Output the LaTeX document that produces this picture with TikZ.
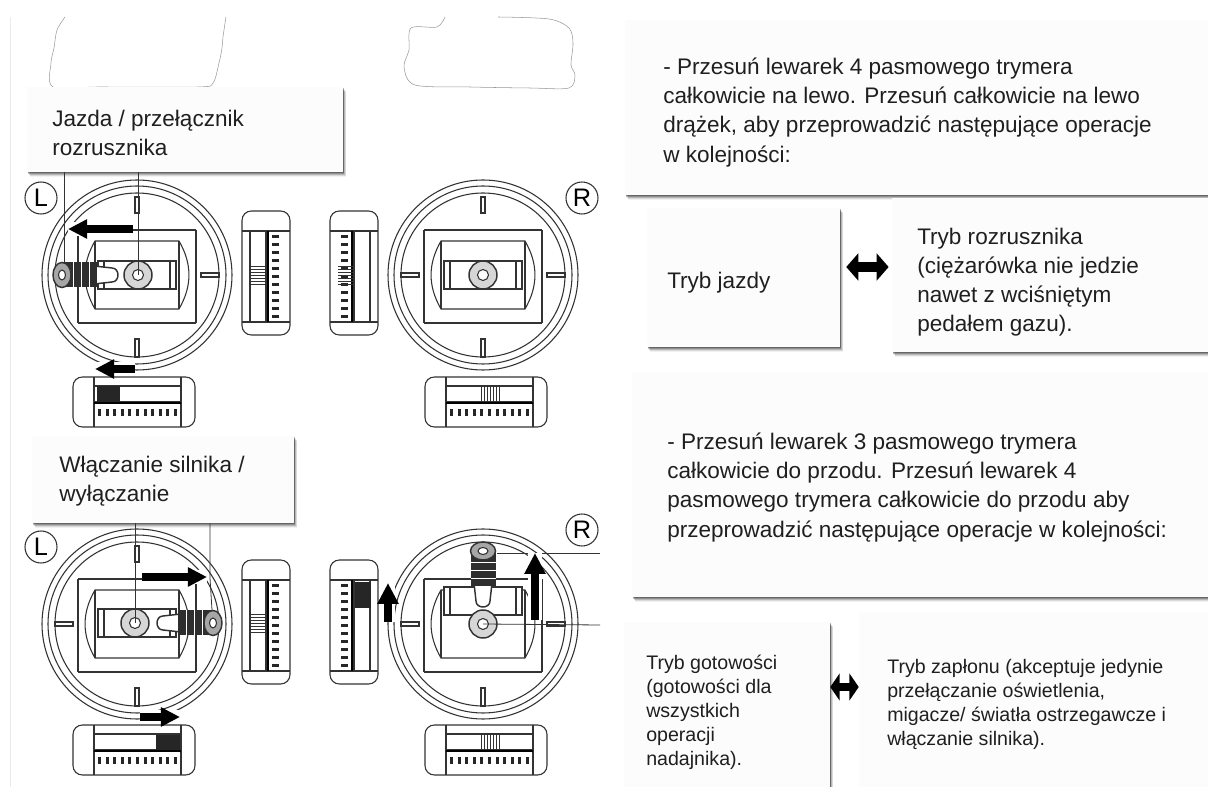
\documentclass[tikz,border=0pt]{standalone}
\usepackage{fontspec}
\setmainfont{Liberation Sans}
\usetikzlibrary{arrows.meta,fit}

\tikzset{
  ink/.style={draw=black!80,line width=.8pt},
  box/.style={inner sep=0pt,fill=black!1,draw=none,
    preaction={fill=black,fill opacity=.05,transform canvas={shift={(2.4pt,-3.4pt)}}},
    preaction={fill=black,fill opacity=.10,transform canvas={shift={(1.9pt,-2.8pt)}}},
    preaction={fill=black,fill opacity=.16,transform canvas={shift={(1.4pt,-2.2pt)}}},
    preaction={fill=black,fill opacity=.22,transform canvas={shift={(.9pt,-1.6pt)}}},
    preaction={fill=black,fill opacity=.28,transform canvas={shift={(.4pt,-1pt)}}}},
  txt/.style={anchor=north west,align=left,inner sep=0pt,text=black!88,font=\fontsize{16.9}{21.8}\selectfont},
  txtS/.style={anchor=north west,align=left,inner sep=0pt,text=black!88,font=\fontsize{14.7}{17.9}\selectfont},
  side/.style={draw=black!80,line width=.8pt,circle,minimum size=24pt,inner sep=0pt,font=\fontsize{19}{19}\selectfont},
  big/.style={-{Triangle[length=#1*2.4,width=#1*2.3]},line width=#1,draw=black,
    preaction={draw=white,line width=#1*1.7,-}},
  dbl/.style={{Triangle[length=9pt,width=20pt]}-{Triangle[length=9pt,width=20pt]},line width=7pt,draw=black},
  lead/.style={draw=black!80,line width=.6pt},
  blob/.style={draw=black!40,line width=.4pt},
  % one dial with its three rings, no slider
  dial/.pic={
    \draw[ink] (0,0) circle (95) (0,0) circle (89);
    \draw[ink] (0,0) circle (82);
    \draw[ink,line width=1pt] (-59,-45) -- (59,-45) (59,-45) -- (59,48) (-59,48) -- (59,48) (-59,-45) -- (-59,48);
    \draw[ink] (-42,-34) -- (42,-34) to[bend left=30] (42,34) -- (-42,34) to[bend left=30] cycle;
    \draw[ink] (-42,-34) -- (-42,34) (42,-34) -- (42,34);
    \draw[ink,fill=white] (-2,-78) rectangle (2,-62);
    \draw[ink,fill=white] (-2,64) rectangle (2,82);
    \draw[ink,fill=white] (-82,-2) rectangle (-64,2);
    \draw[ink,fill=white] (64,-2) rectangle (82,2);
  },
  slider/.pic={
    \draw[ink,fill=white,line width=1.1pt] (-39,-14) rectangle (39,14);
    \draw[ink] (-33,-14) -- (-33,14) (33,-14) -- (33,14);
  },
  knob/.pic={
    \draw[ink,fill=black!16,line width=1.1pt] (0,0) circle (14);
    \draw[ink,fill=white] (0,0) circle (5.5);
  },
  % lever pointing to the left of its pivot
  lever/.pic={
    \draw[ink,fill=white,line width=1.1pt] (0,-7) -- (-18,-9) -- (-18,9) -- (0,7) .. controls (8,7) and (8,-7) .. (0,-7);
    \fill[black!82] (-50,-12.5) rectangle (-15,12.5);
    \draw[white,line width=.4pt] (-39,-12.5) -- (-39,12.5) (-31,-12.5) -- (-31,12.5) (-23,-12.5) -- (-23,12.5);
    \draw[ink,fill=black!35,line width=1.1pt] (-50,0) ellipse (9 and 12.5);
    \draw[ink,fill=white] (-50,0) ellipse (3.5 and 5);
  },
  vtrim/.pic={
    \draw[ink,rounded corners=7pt] (-24,-62) rectangle (24,62);
    \draw[ink] (-24,-42) -- (24,-42) (-24,49) -- (24,49);
    \draw[ink] (-16,-42) rectangle (0,49);
    \draw[black,line width=1.5pt] (2,-42) -- (2,49);
    \foreach \k in {-5,...,5} \fill[black!85] (6,{2+\k*8}) rectangle (13,{5+\k*8});
  },
  htrim/.pic={
    \draw[ink,rounded corners=7pt] (-61,-25) rectangle (61,25);
    \draw[ink] (-40,-25) -- (-40,25) (47,-25) -- (47,25);
    \draw[ink] (-40,-16) rectangle (47,0);
    \draw[black,line width=1.5pt] (-40,1) -- (47,1);
    \foreach \k in {-5,...,5} \fill[black!85] ({2+\k*7.6},7) rectangle ({5+\k*7.6},14);
  }
}

\begin{document}
\begin{tikzpicture}[x=.75pt,y=-.75pt]
\useasboundingbox (0,0) rectangle (1208,787);
\clip (0,0) rectangle (1208,787);
\fill[white] (0,0) rectangle (1208,787);
\draw[black!8,line width=.5pt] (10,17) -- (10,787);

% blanked patches at the top
\draw[blob] plot[smooth,tension=.5] coordinates {(65,17) (57,30) (54,48) (51,63) (53,87) (99,87) (198,87) (213,83) (219,63) (222,48) (223,37) (226,17)};
\draw[blob] plot[smooth,tension=.5] coordinates {(445,17) (437,27) (411,28) (409,50) (404,67) (415,85) (470,87) (530,88) (569,88) (575,75) (571,65) (573,43) (569,28) (549,19) (498,17)};

% dials
\pic at (137,275) {dial};
\pic at (483,275) {dial};
\pic at (137,624) {dial};
\pic at (483,624) {dial};

\pic at (137,275) {slider};
\pic at (483,275) {slider};
\pic at (137,623) {slider};
\pic at (483,601) {slider};

\coordinate (knobLT) at (138,275);
\coordinate (knobLB) at (135,623);
\coordinate (knobRT) at (483,275);
\coordinate (knobRB) at (483,624);
\pic at (knobLT) {knob};
\pic at (knobRT) {knob};
\pic at (knobLB) {knob};
\pic at (knobRB) {knob};

\pic at (112,275) {lever};
\pic[rotate=180] at (163,623) {lever};
\pic[rotate=-90] at (483,601) {lever};

% trims
\pic at (266,273) {vtrim};
\pic[xscale=-1] at (354,273) {vtrim};
\pic at (266,622) {vtrim};
\pic[xscale=-1] at (354,622) {vtrim};
\pic at (134,402) {htrim};
\pic at (486,402) {htrim};
\pic at (134,750) {htrim};
\pic at (486,750) {htrim};

% trim marks
\fill[black!85] (97,386) rectangle (120,402);
\fill[black!85] (156,735) rectangle (180,750);
\fill[black!85] (355,582) rectangle (371,608);
\foreach \x in {-3,...,3} {
  \draw[ink,line width=.4pt] (250,{275+\x*3}) -- (266,{275+\x*3});
  \draw[ink,line width=.4pt] (338,{275+\x*3}) -- (354,{275+\x*3});
  \draw[ink,line width=.4pt] (250,{623+\x*3}) -- (266,{623+\x*3});
  \draw[ink,line width=.4pt] ({490+\x*3},386) -- ({490+\x*3},402);
  \draw[ink,line width=.4pt] ({490+\x*3},735) -- ({490+\x*3},750);
}

% side letters
\node (sideLT)[side] at (41,198) {L};
\node (sideRT)[side] at (582,198) {R};
\node (sideLB)[side] at (41,547) {L};
\node (sideRB)[side] at (582,530) {R};

% boxes
\node (boxOpis1)[box,fit={(625,20) (1208,195)}] {};
\node (boxJazda)[box,fit={(647,208) (840,347)}] {};
\node (boxRozr)[box,fit={(892,198) (1208,352)}] {};
\node (boxOpis2)[box,fit={(632,372) (1208,597)}] {};
\node (boxGot)[box,fit={(624,622) (830,787)}] {};
\node (boxZapl)[box,fit={(859,612) (1208,787)}] {};
\node (boxStart)[box,fit={(27,87) (343,172)}] {};
\node (boxSilnik)[box,fit={(32,436) (294,523)}] {};

% leaders
\coordinate (stickLT) at (64,262);
\coordinate (stickLB) at (210,578);
\coordinate (endRT) at (600,553);
\coordinate (endRB) at (600,625);
\draw[lead] (boxStart.south -| stickLT) -- (stickLT);
\draw[lead] (boxStart.south -| knobLT) -- (knobLT);
\draw[lead] (boxSilnik.south -| knobLB) -- (knobLB);
\draw[lead] (boxSilnik.south -| stickLB) -- (stickLB) -- (212,610);
\draw[lead] (endRT) -- (497,553);
\draw[lead] (endRB) -- (knobRB);

% arrows
\coordinate (a1) at (133,229); \coordinate (a2) at (68,229);
\coordinate (b1) at (135,369); \coordinate (b2) at (95,369);
\coordinate (c1) at (142,577); \coordinate (c2) at (207,577);
\coordinate (d1) at (140,717); \coordinate (d2) at (180,717);
\coordinate (e1) at (535,620); \coordinate (e2) at (535,553);
\coordinate (f1) at (388,622); \coordinate (f2) at (388,583);
\draw[big=6pt] (a1) -- (a2);
\draw[big=6pt] (b1) -- (b2);
\draw[big=6pt] (c1) -- (c2);
\draw[big=6pt] (d1) -- (d2);
\draw[big=6.5pt] (e1) -- (e2);
\draw[big=6.5pt] (f1) -- (f2);
\draw[dbl,shorten <=4.5pt,shorten >=2.3pt] (boxJazda.east |- 0,267) -- (boxRozr.west |- 0,267);
\draw[dbl,{Triangle[length=7pt,width=20pt]}-{Triangle[length=7pt,width=20pt]},line width=6pt] (boxGot.east |- 0,687) -- (boxZapl.west |- 0,687);

% texts
\node (txtOpis1)[txt] at (663,58) {- Przesuń lewarek 4 pasmowego trymera\\całkowicie na lewo. Przesuń całkowicie na lewo\\drążek, aby przeprowadzić następujące operacje\\w kolejności:};
\node (txtJazda)[txt] at (667,272) {Tryb jazdy};
\node (txtRozr)[txt] at (917,228) {Tryb rozrusznika\\(ciężarówka nie jedzie\\nawet z wciśniętym\\pedałem gazu).};
\node (txtOpis2)[txt] at (667,433) {- Przesuń lewarek 3 pasmowego trymera\\całkowicie do przodu. Przesuń lewarek 4\\pasmowego trymera całkowicie do przodu aby\\przeprowadzić następujące operacje w kolejności:};
\node (txtGot)[txtS] at (646,655) {Tryb gotowości\\(gotowości dla\\wszystkich\\operacji\\nadajnika).};
\node (txtZapl)[txtS] at (887,659) {Tryb zapłonu (akceptuje jedynie\\przełączanie oświetlenia,\\migacze/ światła ostrzegawcze i\\włączanie silnika).};
\node (txtStart)[txt] at (52,110) {Jazda / przełącznik\\rozrusznika};
\node (txtSilnik)[txt] at (59,456) {Włączanie silnika /\\wyłączanie};
\end{tikzpicture}
\end{document}
